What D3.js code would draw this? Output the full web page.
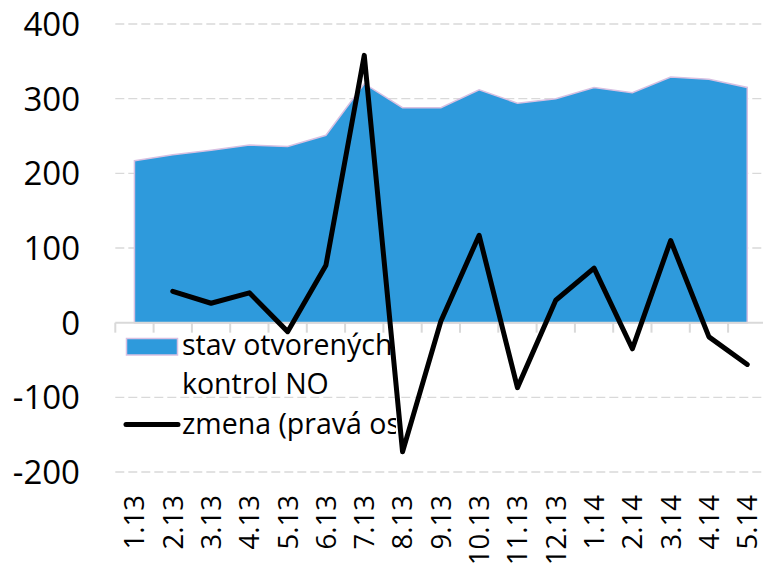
<!DOCTYPE html>
<meta charset="utf-8">
<style>
    body { margin: 0; background: #fff; }
    svg { display: block; }
    .grid line { stroke: #d9d9d9; stroke-width: 1.3; stroke-dasharray: 9,4; }
    .ylab, .xlab { font-family: "Open Sans", sans-serif; fill: #000; }
    .legend text { font-family: "Open Sans", sans-serif; font-size: 28.5px; fill: #000; }
</style>
<svg width="763" height="566"></svg>
<script src="https://d3js.org/d3.v7.min.js"></script>
<script>
    // months on the x axis
    var months = ["1.13", "2.13", "3.13", "4.13", "5.13", "6.13", "7.13", "8.13", "9.13",
                  "10.13", "11.13", "12.13", "1.14", "2.14", "3.14", "4.14", "5.14"];
    // stav otvorených kontrol NO (area)
    var stav = [217, 225, 231, 238, 236, 251, 320, 288, 288, 312, 294, 300, 315, 308, 329, 326, 315];
    // zmena (line), no value for the first month
    var zmena = [null, 42, 26, 40, -12, 77, 358, -173, 2, 117, -87, 30, 73, -35, 110, -19, -56];
    var yTicks = [-200, -100, 0, 100, 200, 300, 400];
    var legendLabels = [["stav otvorených", "kontrol NO"], ["zmena (pravá os)"]];

    var svg = d3.select("svg");

    var x = d3.scaleBand().domain(months).range([115.3, 766.4]).padding(0);
    var y = d3.scaleLinear().domain([-200, 400]).range([472, 24]);
    var cx = function (m) { return x(m) + x.bandwidth() / 2; };

    // dashed gridlines (not at zero)
    svg.append("g").attr("class", "grid")
        .selectAll("line")
        .data(yTicks.filter(function (d) { return d !== 0; }))
        .enter().append("line")
        .attr("x1", 115.3).attr("x2", 762)
        .attr("y1", function (d) { return y(d); })
        .attr("y2", function (d) { return y(d); });

    // y labels
    svg.append("g")
        .selectAll("text")
        .data(yTicks)
        .enter().append("text")
        .attr("class", "ylab")
        .attr("x", 80)
        .attr("y", function (d) { return y(d); })
        .attr("dy", "0.36em")
        .attr("text-anchor", "end")
        .style("font-size", "33px")
        .text(function (d) { return d; });

    // area
    var areaData = months.map(function (m, i) { return { m: m, v: stav[i] }; });
    var area = d3.area()
        .x(function (d) { return cx(d.m); })
        .y0(y(0))
        .y1(function (d) { return y(d.v); });
    svg.append("path")
        .datum(areaData)
        .attr("d", area)
        .attr("fill", "#2e9adc")
        .attr("stroke", "#d8c0e2")
        .attr("stroke-width", 1.5);

    // zero axis + ticks
    var axis = d3.axisBottom(x).tickSize(10).tickFormat("");
    var ax = svg.append("g")
        .attr("transform", "translate(0," + y(0) + ")")
        .call(axis);
    ax.select(".domain").attr("stroke", "#d9d9d9").attr("stroke-width", 2)
        .attr("d", "M115.3,0H766.4");
    ax.selectAll(".tick line")
        .attr("stroke", "#d9d9d9").attr("stroke-width", 2)
        .attr("x1", -x.bandwidth() / 2).attr("x2", -x.bandwidth() / 2);

    // x labels, rotated
    svg.append("g")
        .selectAll("text")
        .data(months)
        .enter().append("text")
        .attr("class", "xlab")
        .attr("transform", function (d) { return "translate(" + cx(d) + ",495) rotate(-90)"; })
        .attr("dy", "0.36em")
        .attr("text-anchor", "end")
        .style("font-size", "27.5px")
        .text(function (d) { return d; });

    // legend (clipped on the right like the original)
    svg.append("clipPath").attr("id", "legclip")
        .append("rect").attr("x", 110).attr("y", 330).attr("width", 286).attr("height", 120);
    var leg = svg.append("g").attr("class", "legend").attr("clip-path", "url(#legclip)");
    leg.append("rect")
        .attr("x", 126.5).attr("y", 338.5).attr("width", 51).attr("height", 16.5)
        .attr("fill", "#2e9adc").attr("stroke", "#d8c0e2").attr("stroke-width", 1.5);
    leg.append("text").attr("x", 182).attr("y", 355).text(legendLabels[0][0]);
    leg.append("text").attr("x", 182).attr("y", 394).text(legendLabels[0][1]);
    leg.append("line")
        .attr("x1", 126).attr("x2", 178).attr("y1", 424.5).attr("y2", 424.5)
        .attr("stroke", "#000").attr("stroke-width", 5).attr("stroke-linecap", "round");
    leg.append("text").attr("x", 182).attr("y", 434).text(legendLabels[1][0]);

    // zmena line
    var lineData = months.map(function (m, i) { return { m: m, v: zmena[i] }; });
    var line = d3.line()
        .defined(function (d) { return d.v !== null; })
        .x(function (d) { return cx(d.m); })
        .y(function (d) { return y(d.v); });
    svg.append("path")
        .datum(lineData)
        .attr("d", line)
        .attr("fill", "none")
        .attr("stroke", "#000")
        .attr("stroke-width", 5)
        .attr("stroke-linejoin", "round")
        .attr("stroke-linecap", "round");
</script>
